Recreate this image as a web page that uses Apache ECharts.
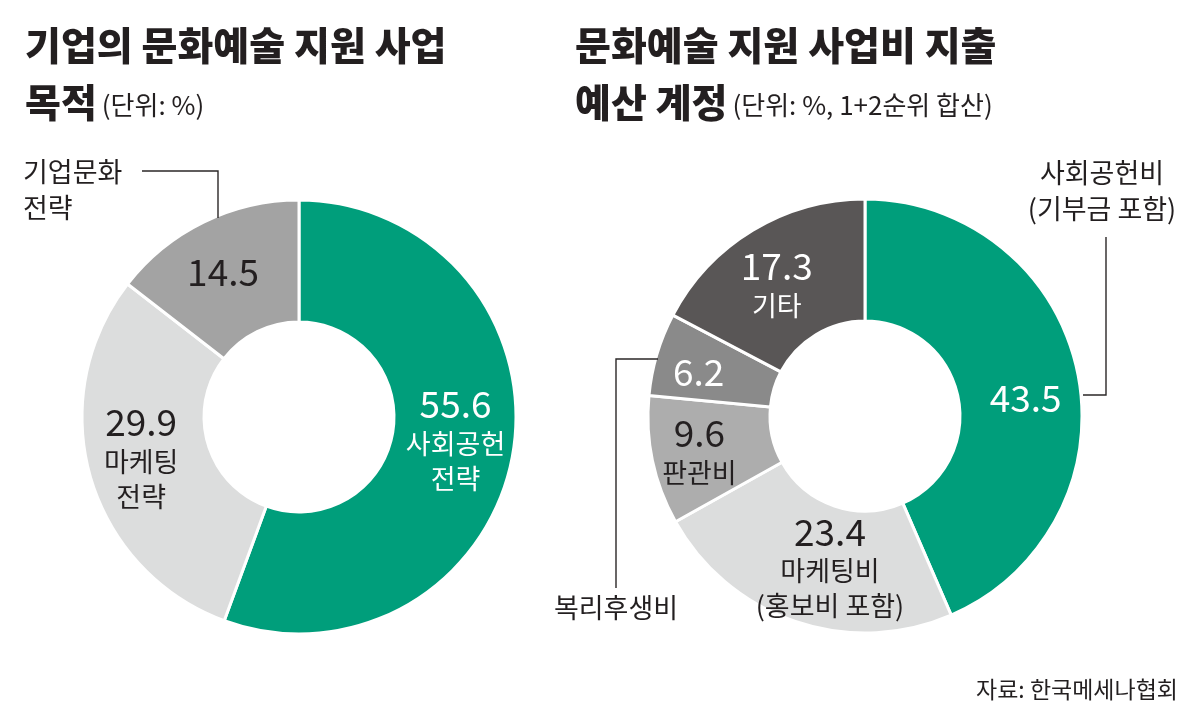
<!DOCTYPE html>
<html>
<head>
<meta charset="utf-8">
<script src="https://cdn.jsdelivr.net/npm/echarts@6/dist/echarts.min.js"></script>
<style>
  html, body { margin: 0; padding: 0; background: #fff; }
  #main { width: 1200px; height: 715px; }
</style>
</head>
<body>
<div id="main"></div>
<script>
// 왼쪽: 기업의 문화예술 지원 사업 목적
const leftNames = ['사회공헌\n전략', '마케팅\n전략', '기업문화\n전략'];
const leftValues = [55.6, 29.9, 14.5];
const leftInside = [true, true, false]; // 이름이 조각 안에 들어가는지

// 오른쪽: 문화예술 지원 사업비 지출 예산 계정
const rightNames = ['사회공헌비\n(기부금 포함)', '마케팅비\n(홍보비 포함)', '판관비', '복리후생비', '기타'];
const rightValues = [43.5, 23.4, 9.6, 6.2, 17.3];
const rightInside = [false, true, true, false, true];

const FONT = "'Noto Sans CJK KR', 'Noto Sans', sans-serif";
const INK = '#231f20';
const GREEN = '#009e7b';

const leftColors = [GREEN, '#dcdddd', '#a3a3a3'];
const leftText = ['#fff', INK, INK];
const rightColors = [GREEN, '#dcdddd', '#adadad', '#8a8a8a', '#595656'];
const rightText = ['#fff', INK, INK, '#fff', '#fff'];

const RADIUS = [95, 217];
const leftCenter = [299, 417];
const rightCenter = [865, 416];

// 안쪽 라벨 미세 조정 (dx, dy)
const leftNudge = [[0, -6], [-5, -4], [-6, -2]];
const rightNudge = [[5, 14], [16, 0], [-10, 2], [-14, 1], [-6, 4]];

// 바깥 라벨 위치와 지시선
const leftOuter = {
  2: { x: 23, y: 190, align: 'left', line: [[218, 218], [218, 171], [142, 171]] }
};
const rightOuter = {
  0: { x: 1102, y: 191, align: 'center', line: [[1083, 395], [1106, 395], [1106, 237]] },
  3: { x: 616, y: 608, align: 'center', line: [[658, 359], [616, 359], [616, 588]] }
};

function mainPie(center, names, values, colors, textColors, inside, nudge) {
  return {
    type: 'pie',
    center: center,
    radius: RADIUS,
    startAngle: 90,
    clockwise: true,
    silent: true,
    avoidLabelOverlap: false,
    itemStyle: { borderColor: '#fff', borderWidth: 3 },
    label: {
      show: true,
      position: 'inside',
      fontFamily: FONT,
      formatter: function (p) {
        let s = '{v|' + p.value.toFixed(1) + '}';
        if (inside[p.dataIndex]) {
          p.name.split('\n').forEach(function (line) { s += '\n{n|' + line + '}'; });
        }
        return s;
      },
      rich: {
        v: { fontSize: 37, fontFamily: FONT, lineHeight: 44 },
        n: { fontSize: 27, fontFamily: FONT, lineHeight: 35 }
      }
    },
    labelLine: { show: false },
    labelLayout: function (p) {
      const d = nudge[p.dataIndex];
      return { dx: d[0], dy: d[1] };
    },
    data: values.map(function (v, i) {
      return {
        name: names[i],
        value: v,
        itemStyle: { color: colors[i] },
        label: { color: textColors[i] }
      };
    })
  };
}

function outerPie(center, names, values, outer) {
  return {
    type: 'pie',
    center: center,
    radius: RADIUS,
    startAngle: 90,
    clockwise: true,
    silent: true,
    avoidLabelOverlap: false,
    z: 3,
    itemStyle: { color: 'rgba(0,0,0,0)', borderWidth: 0 },
    label: {
      position: 'outside',
      color: INK,
      fontFamily: FONT,
      fontSize: 27,
      lineHeight: 36,
      formatter: '{b}'
    },
    labelLine: { lineStyle: { color: '#2b2727', width: 1.4 } },
    labelLayout: function (p) {
      const o = outer[p.dataIndex];
      if (!o) return {};
      return {
        x: o.x, y: o.y, align: o.align, verticalAlign: 'middle',
        labelLinePoints: o.line
      };
    },
    data: values.map(function (v, i) {
      const has = !!outer[i];
      return {
        name: names[i],
        value: v,
        label: { show: has },
        labelLine: { show: has }
      };
    })
  };
}

const chart = echarts.init(document.getElementById('main'), null, { renderer: 'canvas' });

const titleRich = {
  b: { fontSize: 39, fontWeight: 900, fontFamily: FONT, color: INK, lineHeight: 57 },
  s: { fontSize: 26, fontWeight: 'normal', fontFamily: FONT, color: INK, lineHeight: 57, padding: [6, 0, 0, 0] }
};

const option = {
  backgroundColor: '#fff',
  animation: false,
  title: [
    {
      left: 20, top: 12,
      text: '{b|기업의 문화예술 지원 사업}\n{b|목적} {s|(단위: %)}',
      textStyle: { rich: titleRich }
    },
    {
      left: 570, top: 12,
      text: '{b|문화예술 지원 사업비 지출}\n{b|예산 계정} {s|(단위: %, 1+2순위 합산)}',
      textStyle: { rich: titleRich }
    },
    {
      right: 17, top: 673,
      text: '자료: 한국메세나협회',
      textStyle: { fontSize: 23, fontWeight: 'normal', fontFamily: FONT, color: INK }
    }
  ],
  series: [
    mainPie(leftCenter, leftNames, leftValues, leftColors, leftText, leftInside, leftNudge),
    outerPie(leftCenter, leftNames, leftValues, leftOuter),
    mainPie(rightCenter, rightNames, rightValues, rightColors, rightText, rightInside, rightNudge),
    outerPie(rightCenter, rightNames, rightValues, rightOuter)
  ]
};

chart.setOption(option);
</script>
</body>
</html>
